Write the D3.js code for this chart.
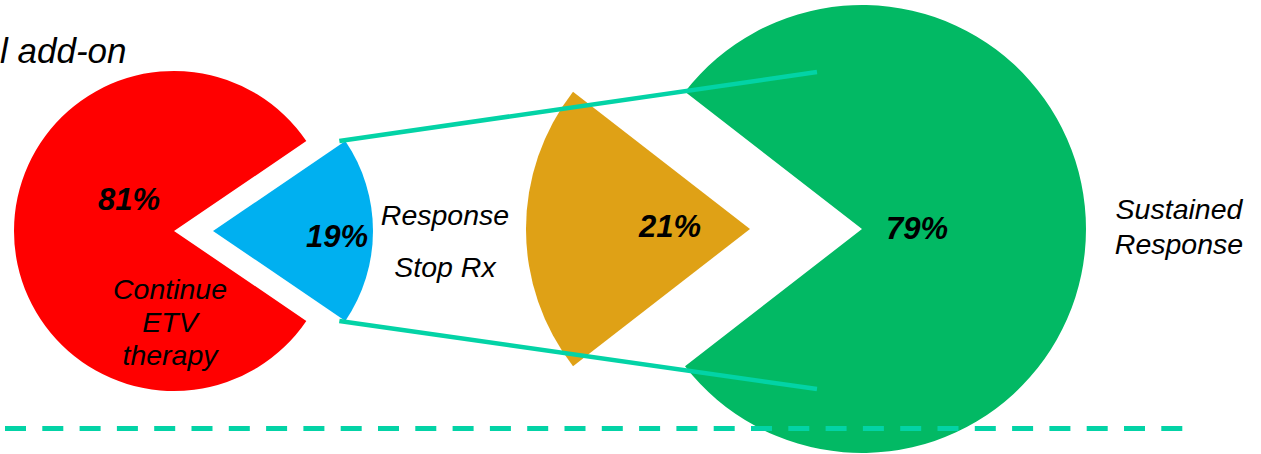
<!DOCTYPE html>
<html>
<head>
<meta charset="utf-8">
<script src="https://cdn.jsdelivr.net/npm/d3@7"></script>
<style>
  html, body { margin: 0; padding: 0; background: #ffffff; }
  svg { display: block; }
  text { font-family: "Liberation Sans", Arial, sans-serif; font-style: italic; fill: #000; }
</style>
</head>
<body>
<svg id="chart" width="1261" height="454"></svg>
<script>
// First stage: ETV patients who respond and stop vs. those who continue
const stage1Categories = ["Response Stop Rx", "Continue ETV therapy"];
const stage1Values = [19, 81];
const stage1Colors = ["#00B0F0", "#FF0000"];

// Second stage: outcome after stopping therapy
const stage2Categories = ["Relapse", "Sustained Response"];
const stage2Values = [21, 79];
const stage2Colors = ["#DFA116", "#02B964"];

const pctLabels1 = stage1Values.map(v => v + "%");
const pctLabels2 = stage2Values.map(v => v + "%");

const svg = d3.select("#chart");

// Pie geometry
const pie1 = { cx: 174, cy: 231, r: 160, explode: 39, facing: Math.PI / 2 };      // cut slice points east
const pie2 = { cx: 862, cy: 229, r: 224, explode: 112, facing: -Math.PI / 2 };    // cut slice points west

function drawPie(cfg, values, colors) {
  const total = d3.sum(values);
  const firstSpan = values[0] / total * 2 * Math.PI;
  const start = cfg.facing - firstSpan / 2;
  const arcs = d3.pie().sort(null).value(d => d)
    .startAngle(start).endAngle(start + 2 * Math.PI)(values);
  const arcGen = d3.arc().innerRadius(0).outerRadius(cfg.r);
  const g = svg.append("g").attr("transform", `translate(${cfg.cx},${cfg.cy})`);
  g.selectAll("path").data(arcs).join("path")
    .attr("d", arcGen)
    .attr("fill", (d, i) => colors[i])
    .attr("transform", (d, i) => {
      if (i !== 0) return null;
      const mid = (d.startAngle + d.endAngle) / 2;
      return `translate(${Math.sin(mid) * cfg.explode},${-Math.cos(mid) * cfg.explode})`;
    });
  return arcs;
}

const arcs1 = drawPie(pie1, stage1Values, stage1Colors);
const arcs2 = drawPie(pie2, stage2Values, stage2Colors);

// Connectors from the exploded blue slice to the second pie
const teal = "#03D3A6";
const blue = arcs1[0];
const bMid = (blue.startAngle + blue.endAngle) / 2;
const bx = pie1.cx + Math.sin(bMid) * pie1.explode;
const by = pie1.cy - Math.cos(bMid) * pie1.explode;
const reachX = 817;
const connectors = [
  { a: blue.startAngle, endY: 72 },
  { a: blue.endAngle, endY: 389 }
];
svg.selectAll("line.connector").data(connectors).join("line")
  .attr("class", "connector")
  .attr("x1", d => bx + Math.sin(d.a) * pie1.r - 6)
  .attr("y1", d => by - Math.cos(d.a) * pie1.r)
  .attr("x2", reachX)
  .attr("y2", d => d.endY)
  .attr("stroke", teal)
  .attr("stroke-width", 4.5);

// Dashed separator
svg.append("line")
  .attr("x1", 5).attr("x2", 1184)
  .attr("y1", 428.5).attr("y2", 428.5)
  .attr("stroke", teal)
  .attr("stroke-width", 5)
  .attr("stroke-dasharray", "21 16.3");

// Title fragment
svg.append("text")
  .attr("x", 0).attr("y", 63)
  .style("font-size", "35px")
  .text("l add-on");

// Percent labels
const pctStyle = sel => sel.attr("text-anchor", "middle")
  .style("font-size", "31px").style("font-weight", "bold");
svg.append("text").attr("x", 129).attr("y", 210).call(pctStyle).text(pctLabels1[1]);
svg.append("text").attr("x", 337).attr("y", 247).call(pctStyle).text(pctLabels1[0]);
svg.append("text").attr("x", 670).attr("y", 237).call(pctStyle).text(pctLabels2[0]);
svg.append("text").attr("x", 917).attr("y", 239).call(pctStyle).text(pctLabels2[1]);

// Category labels
function multiLine(x, ys, lines) {
  lines.forEach((t, i) => {
    svg.append("text").attr("x", x).attr("y", ys[i])
      .attr("text-anchor", "middle")
      .style("font-size", "28.5px")
      .text(t);
  });
}
multiLine(445, [225, 277], ["Response", "Stop Rx"]);
multiLine(170, [299, 332, 365], ["Continue", "ETV", "therapy"]);
multiLine(1179, [219, 254], ["Sustained", "Response"]);
</script>
</body>
</html>
